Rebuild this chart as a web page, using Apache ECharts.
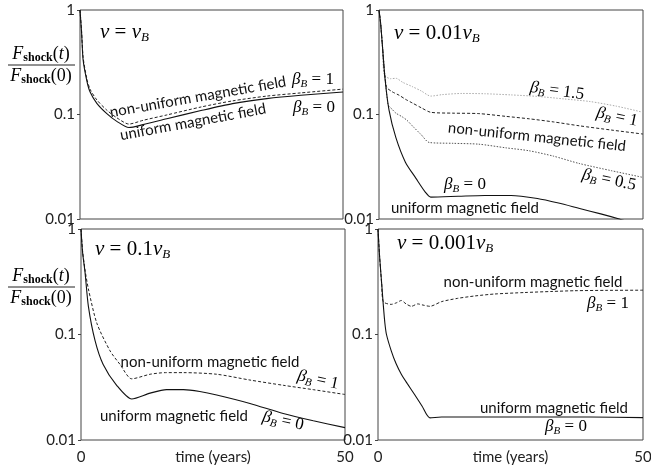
<!DOCTYPE html>
<html><head><meta charset="utf-8">
<script src="https://cdn.jsdelivr.net/npm/echarts@6/dist/echarts.min.js"></script>
<style>html,body{margin:0;padding:0;background:#fff}#c{width:651px;height:466px}</style>
</head><body><div id="c"></div>
<script>
// ---------- data ----------
const xTickValues = [0, 50];
const yTickLabels = ['0.01', '0.1', '1'];

// Panel A: nu = nu_B
const A_t = [0, 0.3, 0.6, 1.3, 1.9, 3.2, 5.1, 7, 9.3, 12, 16.5, 23, 29, 35.5, 42, 50];
const A_uniform = [1, 0.61, 0.33, 0.21, 0.165, 0.128, 0.102, 0.086, 0.075, 0.08, 0.091, 0.109, 0.127, 0.142, 0.153, 0.164];
const A_nonuniform = [1, 0.63, 0.35, 0.22, 0.175, 0.138, 0.11, 0.093, 0.081, 0.088, 0.099, 0.118, 0.135, 0.15, 0.161, 0.175];

// Panel B: nu = 0.01 nu_B
const B_t0 = [0, 0.3, 0.6, 1.1, 1.9, 3.2, 5, 7, 8.8, 9.8, 15, 20, 25, 30, 34, 38, 42, 45.5, 50];
const B_beta0 = [1, 0.75, 0.49, 0.23, 0.11, 0.06, 0.035, 0.0245, 0.018, 0.0162, 0.0165, 0.0168, 0.0168, 0.0157, 0.0142, 0.0126, 0.0112, 0.0100, 0.0085];
const B_t15 = [0, 0.3, 0.6, 1.0, 2.2, 3.2, 4.5, 6.3, 8, 9.8, 12, 15.7, 20, 25, 30, 35, 40, 45, 50];
const B_beta15 = [1, 0.75, 0.49, 0.24, 0.22, 0.222, 0.203, 0.185, 0.168, 0.15, 0.155, 0.159, 0.158, 0.154, 0.149, 0.141, 0.133, 0.12, 0.105];
const B_t1 = [0, 0.3, 0.6, 1.4, 2.5, 3.8, 5, 6.3, 8, 9.8, 14, 18.9, 24, 28.4, 33, 37.9, 44, 50];
const B_beta1 = [1, 0.75, 0.49, 0.184, 0.165, 0.153, 0.14, 0.129, 0.116, 0.105, 0.103, 0.102, 0.096, 0.091, 0.085, 0.078, 0.071, 0.065];
const B_t05 = [0, 0.3, 0.6, 1.7, 2.5, 3.2, 4.4, 5.3, 6.3, 8, 9.5, 14, 18.9, 24, 28.4, 33, 37.9, 44, 50];
const B_beta05 = [1, 0.75, 0.49, 0.125, 0.112, 0.103, 0.095, 0.088, 0.078, 0.064, 0.054, 0.053, 0.052, 0.048, 0.045, 0.04, 0.034, 0.029, 0.025];

// Panel C: nu = 0.1 nu_B
const C_t = [0, 0.3, 0.76, 1.4, 2.65, 4.2, 6.75, 9.6, 13.1, 16.2, 19.4, 22.5, 25.7, 32, 38.3, 44, 50];
const C_uniform = [1, 0.6, 0.39, 0.185, 0.088, 0.052, 0.033, 0.0245, 0.0278, 0.030, 0.030, 0.0288, 0.0267, 0.0222, 0.0178, 0.0152, 0.0131];
const C_tn = [0, 0.3, 0.76, 1.4, 3, 5.5, 7.4, 9.6, 13.1, 16, 19.4, 25.7, 32, 38.3, 44, 50];
const C_nonuniform = [1, 0.62, 0.41, 0.27, 0.128, 0.07, 0.052, 0.038, 0.042, 0.0435, 0.0435, 0.042, 0.037, 0.033, 0.030, 0.027];

// Panel D: nu = 0.001 nu_B
const D_t = [0, 0.3, 0.7, 1.0, 1.3, 1.6, 2.5, 3.4, 4.4, 5.5, 6.9, 8.3, 9.8, 12, 20, 30, 40, 50];
const D_uniform = [1, 0.55, 0.3, 0.19, 0.128, 0.1, 0.07, 0.053, 0.042, 0.0344, 0.027, 0.021, 0.0162, 0.0165, 0.0165, 0.0165, 0.0165, 0.0163];
const D_tn = [0, 0.3, 0.7, 1.0, 2.5, 3.5, 4.4, 5.3, 6.3, 7.5, 8.5, 9.8, 12, 15, 18.3, 22, 27.7, 33, 37.1, 43, 50];
const D_nonuniform = [1, 0.55, 0.3, 0.205, 0.193, 0.2, 0.21, 0.195, 0.185, 0.195, 0.19, 0.185, 0.205, 0.22, 0.232, 0.242, 0.25, 0.256, 0.26, 0.262, 0.263];

// ---------- layout / styles ----------
const SANS = 'Lato, "Open Sans", sans-serif';
const SERIF = '"Liberation Serif", "DejaVu Serif", serif';
const grids = [
  {left: 80, top: 10, width: 263, height: 209},
  {left: 379, top: 10, width: 264, height: 209},
  {left: 81, top: 229, width: 264, height: 211},
  {left: 378, top: 229, width: 265, height: 211}
];
const pair = (t, v) => t.map((x, i) => [x, v[i]]);

const xAxes = grids.map((g, i) => ({
  gridIndex: i, type: 'value', position: 'bottom', min: 0, max: 50, interval: 50,
  axisLine: {show: false, onZero: false}, axisTick: {show: false}, splitLine: {show: false},
  axisLabel: {show: i >= 2, margin: 10, verticalAlign: 'top', color: '#222', fontFamily: SANS, fontSize: 15,
    formatter: v => xTickValues.includes(v) ? String(v) : ''},
  name: i >= 2 ? 'time (years)' : '', nameLocation: 'middle', nameGap: 10, nameMoveOverlap: false,
  nameTextStyle: {color: '#222', fontFamily: SANS, fontSize: 15, verticalAlign: 'top'}
}));
const yAxes = grids.map((g, i) => ({
  gridIndex: i, type: 'log', logBase: 10, min: 0.01, max: 1, position: 'left',
  axisLine: {show: false, onZero: false}, splitLine: {show: false},
  axisTick: {show: true, length: 3, lineStyle: {color: '#444'}},
  axisLabel: {margin: 5, color: '#222', fontFamily: SANS, fontSize: 15,
    formatter: v => { const s = ['0.01', '0.1', '1'][Math.round(Math.log10(v)) + 2]; return yTickLabels.includes(s) ? s : ''; }}
}));

const solid = {color: '#111', width: 1.1, type: 'solid'};
const dashed = {color: '#222', width: 1, type: [3, 2]};
const dottedDark = {color: '#555', width: 1, type: [1.5, 1.5]};
const dottedLight = {color: '#aaa', width: 1, type: [1.5, 1.5]};
function line(idx, t, v, style, z) {
  return {type: 'line', xAxisIndex: idx, yAxisIndex: idx, data: pair(t, v), showSymbol: false,
    smooth: 0.25, lineStyle: style, z: z || 2, silent: true};
}
const series = [
  line(0, A_t, A_nonuniform, dashed), line(0, A_t, A_uniform, solid, 3),
  line(1, B_t15, B_beta15, dottedLight), line(1, B_t1, B_beta1, dashed), line(1, B_t05, B_beta05, dottedDark), line(1, B_t0, B_beta0, solid, 3),
  line(2, C_tn, C_nonuniform, dashed), line(2, C_t, C_uniform, solid, 3),
  line(3, D_tn, D_nonuniform, dashed), line(3, D_t, D_uniform, solid, 3)
];

// ---------- annotations ----------
const richMath = {
  i: {fontFamily: SERIF, fontStyle: 'italic', fontSize: 21, lineHeight: 24, color: '#111'},
  r: {fontFamily: SERIF, fontSize: 21, lineHeight: 24, color: '#111'},
  s: {fontFamily: SERIF, fontStyle: 'italic', fontSize: 13, lineHeight: 13, verticalAlign: 'bottom', color: '#111'}
};
const richBeta = {
  i: {fontFamily: SERIF, fontStyle: 'italic', fontSize: 17, lineHeight: 20, color: '#111'},
  r: {fontFamily: SERIF, fontSize: 17, lineHeight: 20, color: '#111'},
  s: {fontFamily: SERIF, fontStyle: 'italic', fontSize: 11, lineHeight: 11, verticalAlign: 'bottom', color: '#111'}
};
const richFrac = {
  f: {fontFamily: SERIF, fontStyle: 'italic', fontSize: 18, lineHeight: 20, color: '#111'},
  p: {fontFamily: SERIF, fontSize: 18, lineHeight: 20, color: '#111'},
  s: {fontFamily: SERIF, fontWeight: 'bold', fontSize: 12, lineHeight: 12, verticalAlign: 'bottom', color: '#111'}
};
const deg = d => d * Math.PI / 180;
function title(txt, x, y) {
  return {type: 'text', x, y, silent: true, style: {text: txt, rich: richMath, align: 'left', verticalAlign: 'middle'}};
}
function beta(txt, x, y, rot) {
  return {type: 'text', x, y, rotation: deg(rot || 0), silent: true, style: {text: '{i|β}{s|B}{r| = ' + txt + '}', rich: richBeta, align: 'center', verticalAlign: 'middle'}};
}
function words(txt, x, y, rot) {
  return {type: 'text', x, y, rotation: deg(rot || 0), silent: true, style: {text: txt, fontFamily: SANS, fontSize: 15, fill: '#111', align: 'center', verticalAlign: 'middle'}};
}
function frac(yc) {
  return [
    {type: 'text', x: 41, y: yc - 11, silent: true, style: {text: '{f|F}{s|shock}{p|(}{f|t}{p|)}', rich: richFrac, align: 'center', verticalAlign: 'middle'}},
    {type: 'line', silent: true, shape: {x1: 8, y1: yc, x2: 75, y2: yc}, style: {stroke: '#222', lineWidth: 1}},
    {type: 'text', x: 41, y: yc + 11, silent: true, style: {text: '{f|F}{s|shock}{p|(0)}', rich: richFrac, align: 'center', verticalAlign: 'middle'}}
  ];
}
const graphic = [
  ...frac(65), ...frac(287),
  title('{i|ν}{r| = }{i|ν}{s|B}', 100, 32),
  words('non-uniform magnetic field', 198, 97, 10),
  words('uniform magnetic field', 193, 122, 10.5),
  beta('1', 313, 80), beta('0', 314, 108),
  title('{i|ν}{r| = 0.01}{i|ν}{s|B}', 394, 33),
  beta('1.5', 557, 91, -8), beta('1', 617, 117, -12),
  words('non-uniform magnetic field', 537, 137, -6),
  beta('0.5', 609, 180, -12), beta('0', 465, 185),
  words('uniform magnetic field', 465, 208),
  title('{i|ν}{r| = 0.1}{i|ν}{s|B}', 95, 249),
  words('non-uniform magnetic field', 210, 362),
  beta('1', 318, 380, -12),
  words('uniform magnetic field', 174, 416),
  beta('0', 283, 421, -12),
  title('{i|ν}{r| = 0.001}{i|ν}{s|B}', 397, 243),
  words('non-uniform magnetic field', 533, 282),
  beta('1', 608, 304),
  words('uniform magnetic field', 554, 408),
  beta('0', 566, 427)
];

const chart = echarts.init(document.getElementById('c'), null, {renderer: 'canvas'});
chart.setOption({
  animation: false,
  backgroundColor: '#fff',
  grid: grids.map(g => Object.assign({show: true, borderColor: '#444', borderWidth: 1, backgroundColor: 'transparent',
    containLabel: false, outerBoundsMode: 'none'}, g)),
  xAxis: xAxes, yAxis: yAxes, series, graphic
});
</script></body></html>
